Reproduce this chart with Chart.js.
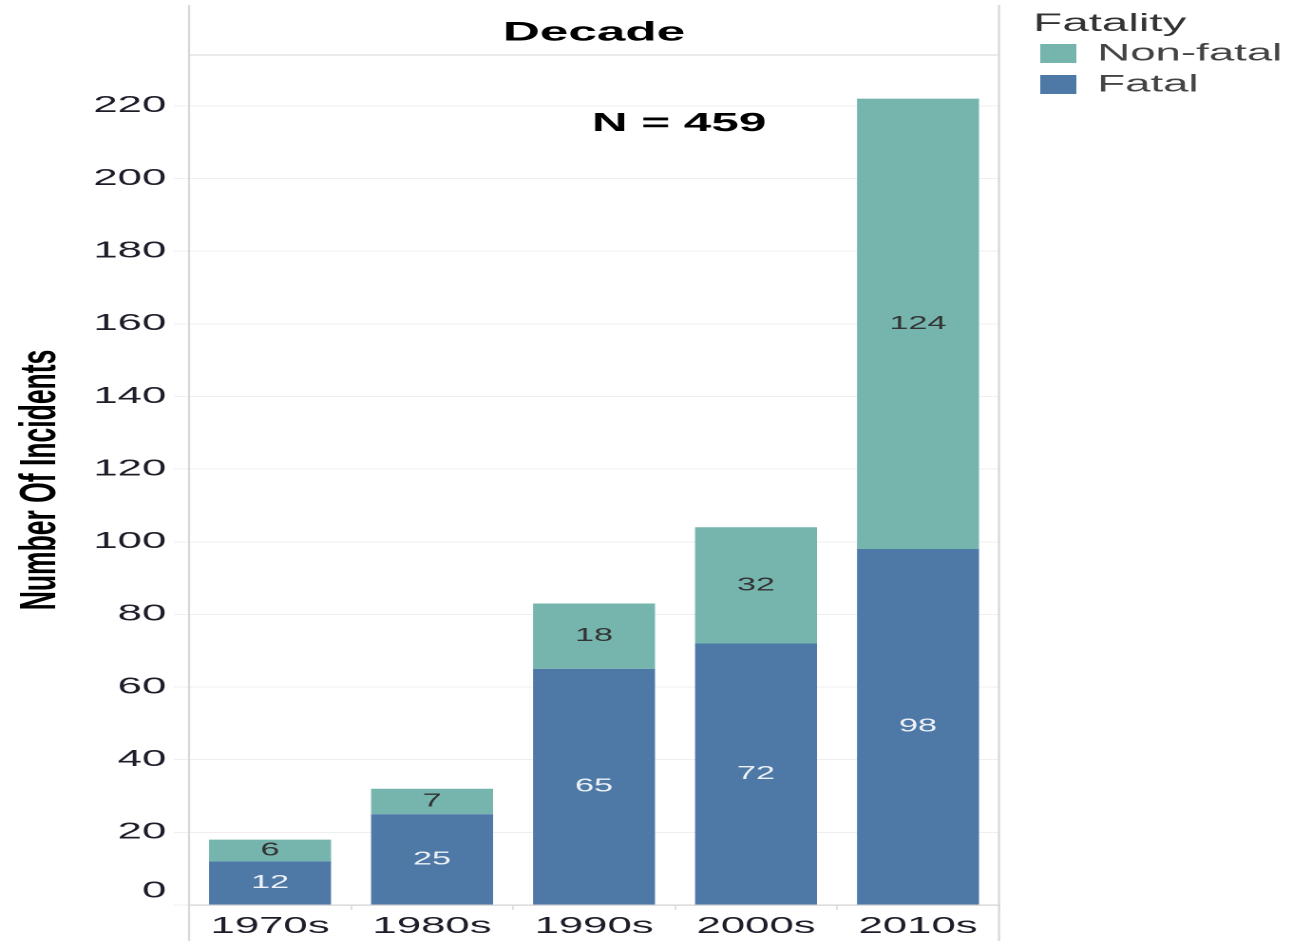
<!DOCTYPE html>
<html>
<head>
<meta charset="utf-8">
<script src="https://cdn.jsdelivr.net/npm/chart.js@4.4.1/dist/chart.umd.min.js"></script>
<style>
html, body { margin: 0; padding: 0; background: #fff; overflow: hidden; }
/* the reference is a chart stretched sideways, so draw it narrow and stretch it */
#wrap { position: absolute; left: 0; top: 0; width: 680px; height: 941px; transform: scaleX(1.9); transform-origin: 0 0; }
</style>
</head>
<body>
<div id="wrap"><canvas id="chart"></canvas></div>
<script>
const decades = ['1970s', '1980s', '1990s', '2000s', '2010s'];
const fatal = [12, 25, 65, 72, 98];
const nonFatal = [6, 7, 18, 32, 124];
const yTicks = [0, 20, 40, 60, 80, 100, 120, 140, 160, 180, 200, 220];
const noteText = 'N = 459';
const legendTitle = 'Fatality';

const FONT = "'Liberation Sans', Arial, sans-serif";

// pane borders like the reference: header line and the two vertical rules
const frame = {
  id: 'frame',
  beforeDatasetsDraw(chart) {
    const {ctx, chartArea: a, height} = chart;
    ctx.save();
    ctx.strokeStyle = '#d6d6d6';
    ctx.lineWidth = 1.1;
    ctx.beginPath();
    ctx.moveTo(a.left, 5); ctx.lineTo(a.left, height);
    ctx.moveTo(a.right, 5); ctx.lineTo(a.right, height);
    ctx.moveTo(a.left, a.top); ctx.lineTo(a.right, a.top);
    ctx.stroke();
    ctx.restore();
  }
};

// numbers inside each stacked segment + the N note
const segLabels = {
  id: 'segLabels',
  afterDatasetsDraw(chart) {
    const {ctx} = chart;
    const colors = ['#eef2f7', '#333333'];
    ctx.save();
    ctx.font = '18px ' + FONT;
    ctx.textAlign = 'center';
    ctx.textBaseline = 'middle';
    chart.data.datasets.forEach((ds, i) => {
      ctx.fillStyle = colors[i];
      chart.getDatasetMeta(i).data.forEach((bar, j) => {
        const p = bar.getProps(['x', 'y', 'base'], true);
        ctx.fillText(String(ds.data[j]), p.x, (p.y + p.base) / 2);
      });
    });
    const a = chart.chartArea;
    ctx.fillStyle = '#000';
    ctx.font = 'bold 26px ' + FONT;
    ctx.fillText(noteText, a.left + a.width * 0.605, a.top + a.height * 0.081);
    ctx.restore();
  }
};

// legend in the right margin, Tableau style (built from the datasets)
const sideLegend = {
  id: 'sideLegend',
  afterDraw(chart) {
    const {ctx, chartArea: a} = chart;
    const x0 = a.right + 18;
    ctx.save();
    ctx.textBaseline = 'middle';
    ctx.textAlign = 'left';
    ctx.fillStyle = '#333';
    ctx.font = '25px ' + FONT;
    ctx.fillText(legendTitle, x0, 24);
    ctx.font = '24px ' + FONT;
    const items = chart.data.datasets.slice().reverse();
    items.forEach((ds, i) => {
      const cy = 54 + i * 31;
      ctx.fillStyle = ds.backgroundColor;
      ctx.fillRect(x0 + 3.7, cy - 10, 19, 19);
      ctx.fillStyle = '#444';
      ctx.fillText(ds.label, x0 + 33.7, cy);
    });
    ctx.restore();
  }
};

const ctx = document.getElementById('chart');
new Chart(ctx, {
  type: 'bar',
  data: {
    labels: decades,
    datasets: [
      { label: 'Fatal', data: fatal, backgroundColor: '#4e79a7' },
      { label: 'Non-fatal', data: nonFatal, backgroundColor: '#76b5ae' }
    ]
  },
  options: {
    responsive: true,
    maintainAspectRatio: false,
    devicePixelRatio: 2,
    animation: false,
    barPercentage: 0.753,
    categoryPercentage: 1,
    layout: { padding: { left: 0, top: 0, bottom: 0, right: 154.2 } },
    scales: {
      x: {
        stacked: true,
        afterFit: s => { s.height = 36; },
        grid: { display: true, offset: true, drawOnChartArea: false, drawTicks: true, tickLength: 5, color: '#e2e2e2' },
        border: { display: true, color: '#d2d2d2', width: 1.2 },
        ticks: { color: '#1e1e2a', padding: 3, font: { family: FONT, size: 23 } }
      },
      y: {
        stacked: true,
        min: 0,
        max: 234,
        afterFit: s => { s.width = 99.5; },
        afterBuildTicks: s => { s.ticks = yTicks.map(v => ({ value: v })); },
        grid: { color: '#efefef', tickLength: 8, drawTicks: true },
        border: { display: false },
        ticks: {
          color: '#1e1e2a',
          padding: 4,
          font: { family: FONT, size: 23 },
          // the bottom label sits a little above its line, as in the reference
          callback: v => (v === 0 ? ['0', ''] : String(v))
        },
        title: {
          display: true,
          text: 'Number Of Incidents',
          color: '#000',
          padding: { top: 6, bottom: 0 },
          font: { family: FONT, size: 26.5, weight: 'bold' }
        }
      }
    },
    plugins: {
      title: {
        display: true,
        text: 'Decade',
        fullSize: false,
        color: '#000',
        padding: { top: 17, bottom: 5.6 },
        font: { family: FONT, size: 27, weight: 'bold', lineHeight: 1.2 }
      },
      legend: { display: false },
      tooltip: { enabled: false }
    }
  },
  plugins: [frame, segLabels, sideLegend]
});
</script>
</body>
</html>
